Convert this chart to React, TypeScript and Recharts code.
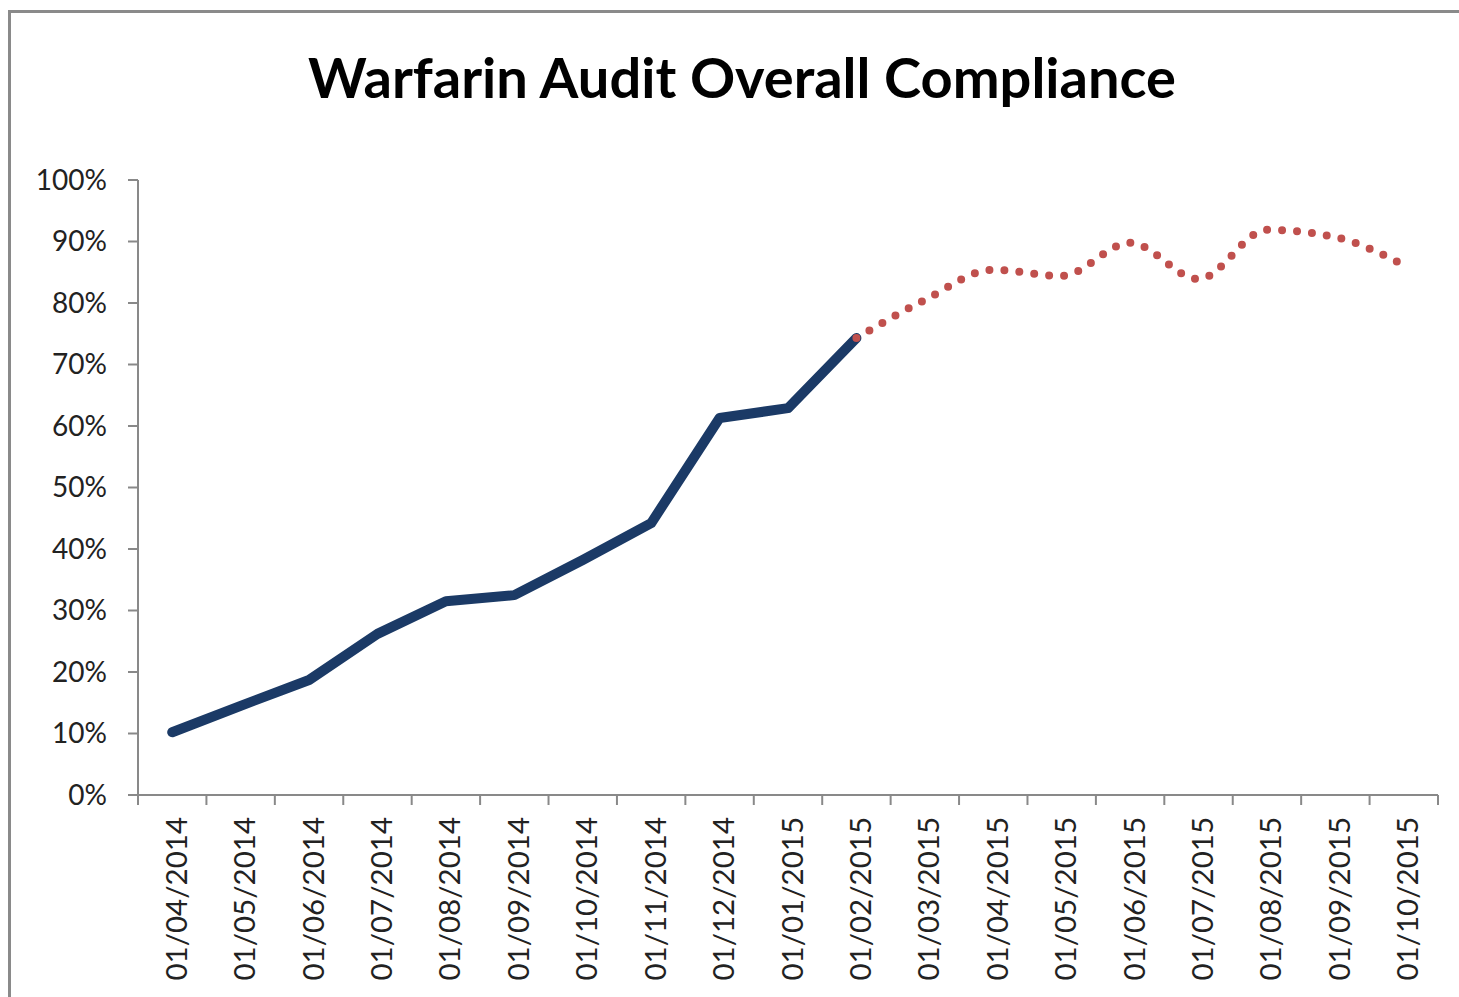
import { LineChart, Line, XAxis, YAxis } from 'recharts'

const months = [
  '01/04/2014', '01/05/2014', '01/06/2014', '01/07/2014', '01/08/2014', '01/09/2014',
  '01/10/2014', '01/11/2014', '01/12/2014', '01/01/2015', '01/02/2015', '01/03/2015',
  '01/04/2015', '01/05/2015', '01/06/2015', '01/07/2015', '01/08/2015', '01/09/2015',
  '01/10/2015',
]

// actual compliance (fraction), up to Feb 2015
const actual = [0.102, 0.145, 0.187, 0.262, 0.315, 0.325, 0.382, 0.442, 0.613, 0.629, 0.743]

// projected trend from Feb 2015 onwards (first value shared with actual)
const projected = [0.743, 0.805, 0.854, 0.844, 0.898, 0.839, 0.919, 0.907, 0.862]
const projectedStart = 10

const yTicks = [0, 0.1, 0.2, 0.3, 0.4, 0.5, 0.6, 0.7, 0.8, 0.9, 1]

const data = months.map((m, i) => ({
  month: m,
  actual: i < actual.length ? actual[i] : null,
  projected: i >= projectedStart ? projected[i - projectedStart] : null,
}))

const W = 1459
const H = 997
const PLOT_LEFT = 138
const PLOT_RIGHT = 1438
const PLOT_TOP = 180
const PLOT_BOTTOM = 795
const BAND = (PLOT_RIGHT - PLOT_LEFT) / months.length
const AXIS = '#898989'
const FONT = 'Lato, "Open Sans", sans-serif'

function MonthTick(props: any) {
  const { x, y, payload, index } = props
  const left = x - BAND / 2
  return (
    <g>
      <line x1={left} y1={y} x2={left} y2={y + 10} stroke={AXIS} strokeWidth={2} />
      {index === months.length - 1 && (
        <line x1={x + BAND / 2} y1={y} x2={x + BAND / 2} y2={y + 10} stroke={AXIS} strokeWidth={2} />
      )}
      <text
        x={0}
        y={0}
        transform={`translate(${x + 3},${y + 22}) rotate(-90)`}
        textAnchor="end"
        dominantBaseline="central"
        fontSize={29.5}
        fontFamily={FONT}
        fill="#222"
      >
        {payload.value}
      </text>
    </g>
  )
}

export default function App() {
  return (
    <div style={{ position: 'absolute', left: 0, top: 0, width: W, height: H, background: '#fff', overflow: 'hidden' }}>
      <div
        style={{
          position: 'absolute', left: 8, top: 10, width: W, height: H,
          borderLeft: '3px solid #8a8a8a', borderTop: '3px solid #8a8a8a',
        }}
      />
      <div
        style={{
          position: 'absolute', left: 0, top: 42, width: 1484, textAlign: 'center',
          fontFamily: FONT, fontWeight: 700, fontSize: 56, lineHeight: '70px', color: '#000',
        }}
      >
        Warfarin Audit Overall Compliance
      </div>
      <div style={{ position: 'absolute', left: 0, top: 0 }}>
        <LineChart
          width={W}
          height={H}
          data={data}
          margin={{ top: PLOT_TOP, right: W - PLOT_RIGHT, bottom: 0, left: 0 }}
        >
          <XAxis
            dataKey="month"
            interval={0}
            height={H - PLOT_BOTTOM}
            padding={{ left: BAND / 2, right: BAND / 2 }}
            axisLine={{ stroke: AXIS, strokeWidth: 2 }}
            tickLine={false}
            tickSize={0}
            tickMargin={0}
            tick={<MonthTick />}
          />
          <YAxis
            width={PLOT_LEFT}
            domain={[0, 1]}
            ticks={yTicks}
            interval={0}
            tickFormatter={(v: number) => `${Math.round(v * 100)}%`}
            axisLine={{ stroke: AXIS, strokeWidth: 2 }}
            tickLine={{ stroke: AXIS, strokeWidth: 2 }}
            tickSize={10}
            tickMargin={21}
            tick={{ fontSize: 28, fontFamily: FONT, fill: '#222' }}
          />
          <Line
            dataKey="actual"
            type="linear"
            stroke="#1b3a66"
            strokeWidth={10}
            strokeLinecap="round"
            strokeLinejoin="round"
            dot={false}
            connectNulls={false}
            isAnimationActive={false}
          />
          <Line
            dataKey="projected"
            type="monotone"
            stroke="#c0504d"
            strokeWidth={8}
            strokeLinecap="round"
            strokeDasharray="0 15"
            dot={false}
            isAnimationActive={false}
          />
        </LineChart>
      </div>
    </div>
  )
}
